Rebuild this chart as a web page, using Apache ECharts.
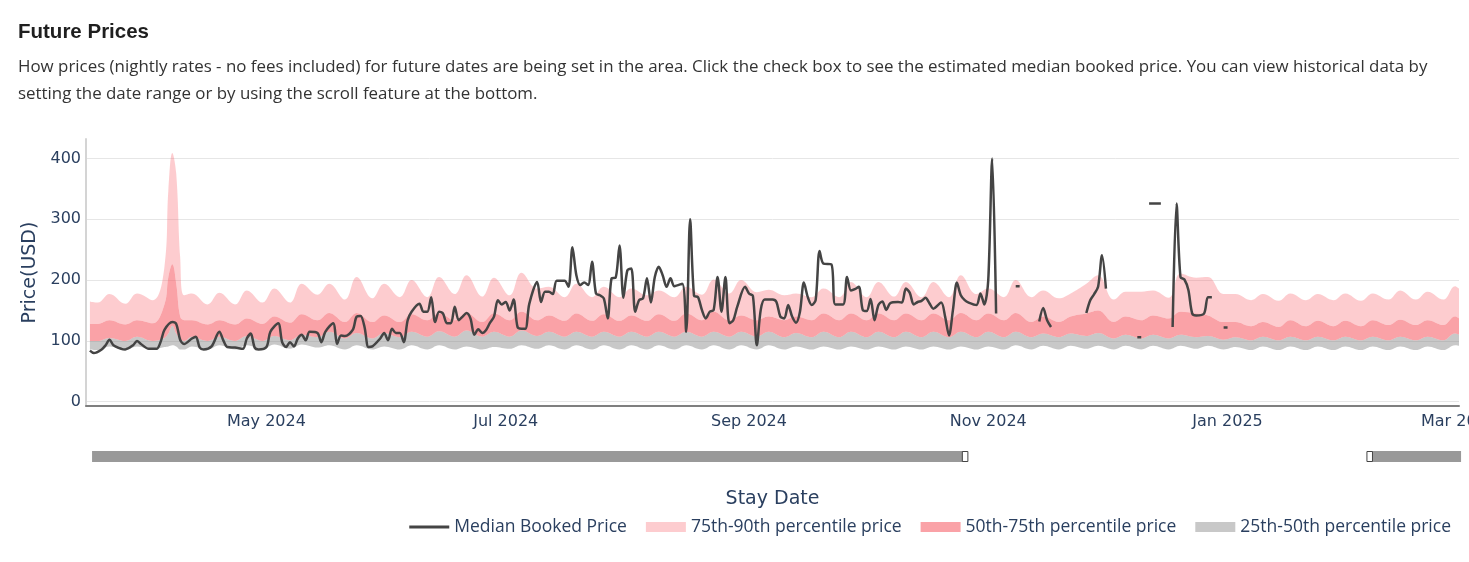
<!DOCTYPE html>
<html>
<head>
<meta charset="utf-8">
<title>Future Prices</title>
<script src="https://cdn.jsdelivr.net/npm/echarts@6/dist/echarts.min.js"></script>
<style>
  html, body { margin: 0; padding: 0; background: #fff; }
  #main { width: 1469px; height: 562px; }
</style>
</head>
<body>
<div id="main"></div>
<script>
// x values are day offsets counted from 2024-03-16 (day 350 = 2025-03-01)
const DAY = 86400000;
const T0 = Date.UTC(2024, 2, 16);
const LAST_DAY = 350;

const bandDays = [1,3,6,10,13,17,20,21,22,23,24,25,
  27,31,34,38,41,45,48,52,55,59,
  62,66,69,73,76,80,83,87,90,94,
  97,101,104,108,111,115,118,122,125,129,
  132,136,139,143,146,150,153,157,160,164,
  167,171,174,178,181,185,188,192,195,199,
  202,206,209,213,216,220,223,227,230,234,
  237,241,244,248,251,255,258,262,265,269,
  272,276,279,283,286,290,293,297,300,304,
  307,311,314,318,321,325,328,332,335,339,
  342,346,349,350];

const p90 = [165,163,177,161,178,167,222,348,409,375,238,175,
  178,160,179,160,183,163,186,163,194,176,
  194,168,205,170,194,172,200,172,205,177,
  208,173,204,175,212,186,189,172,194,172,
  189,172,186,175,183,172,189,176,201,178,
  200,180,184,175,178,172,186,172,197,172,
  197,173,197,172,197,172,208,177,186,172,
  200,172,183,170,178,194,208,168,181,181,
  183,171,211,204,205,177,177,167,177,166,
  178,167,177,167,178,166,178,168,183,168,
  181,168,190,186];

const p75 = [128,128,134,127,134,129,160,205,226,194,140,134,
  134,127,134,127,137,128,140,130,144,134,
  146,131,146,131,142,131,144,134,145,134,
  146,131,145,134,148,134,142,133,145,133,
  144,133,142,133,144,133,145,134,148,134,
  142,134,140,134,140,134,145,134,145,134,
  145,134,145,134,145,134,146,134,145,134,
  146,131,140,131,140,145,150,131,140,134,
  142,137,148,145,142,131,131,124,131,123,
  134,124,133,124,133,124,134,126,135,126,
  134,126,140,137];

const p50 = [100,100,105,100,107,100,105,112,125,112,103,100,
  107,100,107,100,108,100,108,101,110,106,
  115,104,113,104,113,106,115,107,116,107,
  117,107,115,107,117,108,115,107,115,107,
  115,107,115,107,115,107,115,107,115,107,
  115,107,115,106,113,106,115,106,115,106,
  115,106,115,106,115,106,115,106,115,106,
  115,106,112,106,112,108,113,104,110,104,
  110,104,110,106,108,102,106,101,107,101,
  107,101,107,101,107,101,107,101,107,101,
  107,101,112,110];

const p25 = [86,85,91,85,91,86,90,91,93,91,86,86,
  91,86,93,86,93,86,94,87,94,89,
  93,86,93,86,91,86,93,86,93,86,
  91,86,90,87,93,87,93,86,93,86,
  93,86,93,86,93,86,93,86,93,86,
  93,86,93,86,91,86,91,86,91,86,
  91,86,91,86,91,86,91,86,91,86,
  93,86,92,86,92,87,92,86,92,86,
  92,86,92,87,92,86,90,85,91,85,
  91,85,91,85,91,85,91,85,91,85,
  91,85,93,92];

// [day, median booked price]; null = no bookings
const medianPts = [
  [1,84],[2,80],[4,86],[5,93],[6,102],[7,93],[9,87],[10,86],[12,93],[13,100],
  [14,95],[16,87],[18,87],[19,98],[20,118],[22,131],[23,128],[24,102],[25,95],[27,104],
  [28,107],[29,89],[30,86],[32,91],[34,115],[35,101],[36,90],[38,89],[40,87],[41,104],
  [42,112],[43,89],[44,86],[46,90],[47,115],[49,129],[50,98],[51,90],[52,98],[53,91],
  [54,104],[55,110],[56,101],[57,115],[59,113],[60,98],[61,115],[63,129],[64,95],[65,109],
  [66,108],[68,118],[69,140],[70,141],[71,123],[72,90],[73,91],[75,104],[76,113],[77,101],
  [78,120],[79,113],[80,113],[81,98],[82,134],[83,148],[85,161],[86,148],[87,148],[88,172],
  [89,131],[90,148],[91,145],[92,129],[93,129],[94,156],[95,134],[96,140],[97,146],[98,137],
  [99,110],[100,119],[101,113],[102,118],[103,130],[104,140],[105,167],[106,160],[107,164],[108,150],
  [109,168],[110,123],[111,120],[112,120],[113,161],[115,197],[116,164],[117,181],[118,181],[119,177],
  [120,199],[122,199],[123,189],[124,254],[125,208],[126,192],[127,196],[128,192],[129,230],[130,178],
  [131,175],[132,170],[133,137],[134,203],[135,204],[136,257],[137,171],[138,216],[139,219],[140,148],
  [141,167],[142,170],[143,203],[144,163],[145,205],[146,222],[147,208],[148,189],[149,203],[150,190],
  [152,194],[153,115],[154,300],[155,174],[156,172],[157,151],[158,137],[159,148],[160,151],[161,205],
  [162,148],[163,205],[164,129],[165,134],[166,156],[168,189],[169,178],[170,174],[171,93],[172,151],
  [173,168],[175,168],[176,164],[177,140],[178,137],[179,159],[180,140],[181,130],[182,148],[183,196],
  [184,172],[185,159],[186,167],[187,248],[188,227],[190,226],[191,160],[193,160],[194,205],[195,183],
  [196,185],[197,189],[198,151],[199,149],[200,169],[201,134],[202,159],[203,165],[204,151],[205,162],
  [207,164],[208,163],[209,186],[210,179],[211,160],[212,164],[213,166],[214,171],[215,162],[216,153],
  [218,163],[219,140],[220,109],[221,151],[222,196],[223,175],[224,167],[225,163],[227,159],[228,178],
  [229,160],[230,200],[231,400],[232,145],[234,null],
  [237,190],[238,190],[240,null],
  [243,132],[244,154],[245,134],[246,123],[250,null],
  [255,146],[256,167],[257,177],[258,189],[259,241],[260,186],[264,null],
  [268,106],[269,106],[270,null],
  [271,326],[272,326],[273,326],[274,326],[275,null],
  [277,123],[278,326],[279,205],[280,201],[281,184],[282,145],[283,142],[285,145],[286,172],[287,172],[289,null],
  [290,122],[291,122]
];

const tickDates = ['2024-05-01','2024-07-01','2024-09-01','2024-11-01','2025-01-01','2025-03-01'];
const tickLabels = ['May 2024','Jul 2024','Sep 2024','Nov 2024','Jan 2025','Mar 2025'];
const yTicks = [0, 100, 200, 300, 400];

const tickDays = tickDates.map(s => Math.round((Date.parse(s) - T0) / DAY));
const dayCategories = [];
for (let d = 0; d <= LAST_DAY; d++) dayCategories.push(String(d));

function bandData(top, bottom) {
  return bandDays.map((d, i) => [d, bottom ? top[i] - bottom[i] : top[i]]);
}

const labelColor = '#2a3f5f';
const tickFont = 'DejaVu Sans';

const bandBase = {
  type: 'line',
  stack: 'band',
  smooth: 0.4,
  symbol: 'none',
  silent: true,
  z: 1,
  lineStyle: { width: 0, opacity: 0 }
};

const option = {
  animation: false,
  backgroundColor: '#fff',
  title: {
    text: 'Future Prices',
    subtext: 'How prices (nightly rates - no fees included) for future dates are being set in the area. Click the check box to see the estimated median booked price. You can view historical data by\nsetting the date range or by using the scroll feature at the bottom.',
    left: 18,
    top: 22,
    padding: 0,
    itemGap: 11,
    textStyle: { fontFamily: 'Liberation Sans', fontSize: 20.5, fontWeight: 'bold', color: '#1f1f1f' },
    subtextStyle: { fontFamily: 'Open Sans', fontSize: 16.9, color: '#333', lineHeight: 27 }
  },
  legend: {
    right: 13,
    top: 513,
    itemWidth: 40,
    itemHeight: 10,
    itemGap: 19,
    textStyle: { fontFamily: 'Open Sans', fontSize: 17.5, color: labelColor },
    data: [
      { name: 'Median Booked Price', icon: 'path://M0,0 L0.01,0 L0,0.01 Z M0,3.5 L40,3.5 L40,6.5 L0,6.5 Z M40,10 L39.99,10 L40,9.99 Z' },
      { name: '75th-90th percentile price', icon: 'rect' },
      { name: '50th-75th percentile price', icon: 'rect' },
      { name: '25th-50th percentile price', icon: 'rect' }
    ]
  },
  grid: [
    { left: 86, right: 10, top: 139, bottom: 156, outerBoundsMode: 'none' },
    { left: 91, right: 9, top: 451, height: 11, show: false, outerBoundsMode: 'none' }
  ],
  xAxis: [{
    type: 'category',
    data: dayCategories,
    boundaryGap: false,
    name: 'Stay Date',
    nameLocation: 'middle',
    nameGap: 84,
    nameTextStyle: { fontFamily: tickFont, fontSize: 19, color: labelColor },
    axisLine: { show: true, onZero: false, lineStyle: { color: '#7f7f7f', width: 2 } },
    axisTick: { show: false },
    splitLine: { show: false },
    axisLabel: {
      interval: idx => tickDays.indexOf(idx) >= 0,
      margin: 8,
      fontFamily: tickFont,
      fontSize: 16,
      color: labelColor,
      formatter: v => tickLabels[tickDays.indexOf(Number(v))] || ''
    }
  }, {
    type: 'value', gridIndex: 1, min: 0, max: 100, show: false
  }],
  yAxis: [{
    type: 'value',
    min: -7,
    max: 432,
    name: 'Price(USD)',
    nameLocation: 'middle',
    nameGap: 41,
    nameRotate: 90,
    nameTextStyle: { fontFamily: tickFont, fontSize: 19, color: labelColor },
    axisLine: { show: true, lineStyle: { color: '#d4d4d4', width: 2 } },
    axisTick: { show: false, customValues: yTicks },
    axisLabel: { customValues: yTicks, margin: 5, fontFamily: tickFont, fontSize: 16, color: labelColor },
    splitLine: { show: true, lineStyle: { color: '#e6e6e6', width: 1 } }
  }, {
    type: 'value', gridIndex: 1, show: false
  }],
  dataZoom: [{
    type: 'slider',
    xAxisIndex: 1,
    filterMode: 'none',
    start: 63.7,
    end: 93.4,
    left: 91,
    right: 9,
    top: 451,
    height: 11,
    backgroundColor: '#999',
    fillerColor: '#fff',
    borderColor: 'transparent',
    borderRadius: 0,
    showDetail: false,
    showDataShadow: false,
    brushSelect: false,
    moveHandleSize: 0,
    moveHandleStyle: { opacity: 0 },
    handleIcon: 'path://M0,0 L5,0 L5,9 L0,9 Z',
    handleSize: 10,
    handleStyle: { color: '#fff', borderColor: '#444', borderWidth: 1 },
    dataBackground: { lineStyle: { opacity: 0 }, areaStyle: { opacity: 0 } },
    selectedDataBackground: { lineStyle: { opacity: 0 }, areaStyle: { opacity: 0 } }
  }],
  series: [
    Object.assign({}, bandBase, {
      name: 'p25',
      data: bandData(p25)
    }),
    Object.assign({}, bandBase, {
      name: '25th-50th percentile price',
      itemStyle: { color: 'rgba(128,128,128,0.43)' },
      areaStyle: { color: 'rgba(128,128,128,0.43)', opacity: 1 },
      data: bandData(p50, p25)
    }),
    Object.assign({}, bandBase, {
      name: '50th-75th percentile price',
      itemStyle: { color: 'rgba(245,85,95,0.55)' },
      areaStyle: { color: 'rgba(245,85,95,0.55)', opacity: 1 },
      data: bandData(p75, p50)
    }),
    Object.assign({}, bandBase, {
      name: '75th-90th percentile price',
      itemStyle: { color: 'rgba(248,105,115,0.34)' },
      areaStyle: { color: 'rgba(248,105,115,0.34)', opacity: 1 },
      data: bandData(p90, p75)
    }),
    {
      name: 'Median Booked Price',
      type: 'line',
      smooth: 0.3,
      symbol: 'none',
      z: 3,
      connectNulls: false,
      itemStyle: { color: '#444' },
      lineStyle: { color: '#444', width: 2.5 },
      data: medianPts.map(p => [p[0], p[1] === null ? '-' : p[1]])
    }
  ]
};

const myChart = echarts.init(document.getElementById('main'));
myChart.setOption(option);
</script>
</body>
</html>
